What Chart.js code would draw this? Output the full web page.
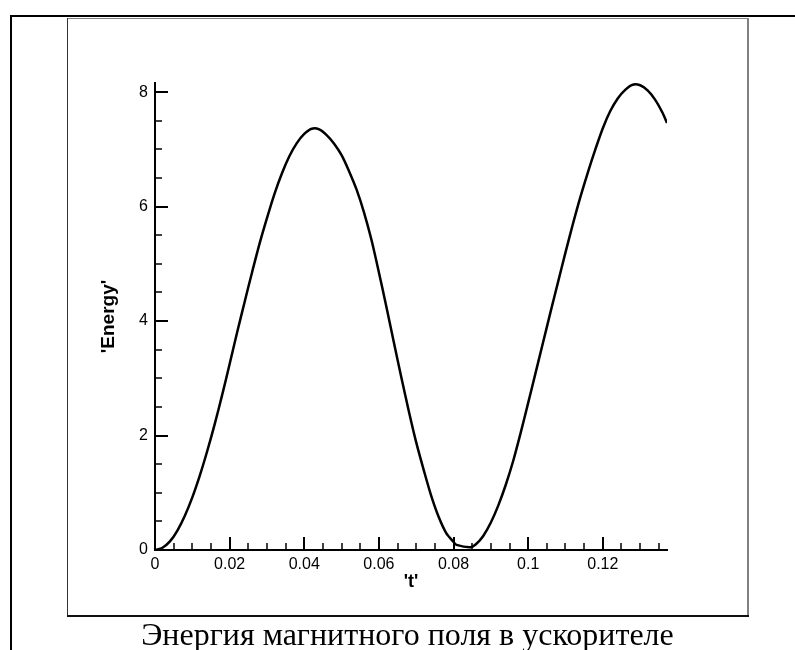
<!DOCTYPE html>
<html>
<head>
<meta charset="utf-8">
<script src="https://cdn.jsdelivr.net/npm/chart.js@4/dist/chart.umd.min.js"></script>
<style>
  html, body { margin: 0; padding: 0; background: #fff; overflow: hidden; }
  #wrap { position: relative; width: 795px; height: 650px; }
  #c { position: absolute; left: 0; top: 0; }
  .line { position: absolute; }
  #caption {
    position: absolute; left: 0; width: 815px; top: 618px;
    text-align: center; font-family: "Liberation Serif", "DejaVu Serif", serif;
    font-size: 32px; line-height: 32px; color: #000; white-space: nowrap;
  }
</style>
</head>
<body>
<div id="wrap">
  <canvas id="c" width="795" height="650"></canvas>
  <!-- outer frame -->
  <div class="line" style="left:10px; top:15px; width:785px; height:2px; background:#000"></div>
  <div class="line" style="left:10px; top:15px; width:2px; height:635px; background:#000"></div>
  <!-- inner box -->
  <div class="line" style="left:67px; top:18px; width:682px; height:1px; background:#808080"></div>
  <div class="line" style="left:67px; top:18px; width:1px; height:598px; background:#333"></div>
  <div class="line" style="left:747px; top:18px; width:2px; height:599px; background:#808080"></div>
  <div class="line" style="left:67px; top:615px; width:682px; height:2px; background:#111"></div>
  <div id="caption">Энергия магнитного поля в ускорителе</div>
</div>
<script>
// время, с
var t = [0, 0.002, 0.004, 0.006, 0.008, 0.010, 0.012, 0.014, 0.016, 0.018,
         0.020, 0.022, 0.024, 0.026, 0.028, 0.030, 0.032, 0.034, 0.036, 0.038,
         0.040, 0.042, 0.044, 0.046, 0.048, 0.050, 0.052, 0.054, 0.056,
         0.058, 0.060, 0.062, 0.064, 0.066, 0.068, 0.070, 0.072, 0.074, 0.076,
         0.078, 0.080, 0.0808, 0.0845, 0.086, 0.088, 0.090, 0.092, 0.094, 0.096,
         0.098, 0.100, 0.102, 0.104, 0.106, 0.108, 0.110, 0.112, 0.114, 0.116,
         0.118, 0.120, 0.122, 0.124, 0.126, 0.128, 0.130, 0.132, 0.134, 0.136,
         0.1372];
// энергия
var energy = [0, 0.04, 0.15, 0.34, 0.60, 0.92, 1.30, 1.73, 2.20, 2.71,
              3.25, 3.80, 4.33, 4.85, 5.35, 5.80, 6.22, 6.58, 6.88, 7.11,
              7.27, 7.36, 7.35, 7.25, 7.10, 6.90, 6.62, 6.30, 5.90,
              5.42, 4.85, 4.25, 3.63, 3.02, 2.43, 1.88, 1.40, 0.95, 0.58,
              0.30, 0.14, 0.09, 0.05, 0.10, 0.25, 0.48, 0.78, 1.14, 1.56,
              2.05, 2.57, 3.10, 3.63, 4.16, 4.68, 5.20, 5.70, 6.17, 6.60,
              7.00, 7.37, 7.67, 7.89, 8.04, 8.13, 8.12, 8.03, 7.87, 7.64,
              7.46];

var xMax = 0.1372, yMax = 8.16;
var xMajor = 0.02, xMinor = 0.005;
var yMajor = 2, yMinor = 0.5;

var pts = t.map(function (v, i) { return { x: v, y: energy[i] }; });

function fmt(v) { return String(+v.toFixed(3)); }

// засечки внутрь области графика
var ticksPlugin = {
  id: 'inTicks',
  afterDraw: function (chart) {
    var ctx = chart.ctx, xs = chart.scales.x, ys = chart.scales.y;
    var x0 = xs.getPixelForValue(0), y0 = ys.getPixelForValue(0);
    ctx.save();
    ctx.strokeStyle = '#000';
    var v, p, major;
    for (v = 0; v <= xMax + 1e-9; v += xMinor) {
      major = Math.abs(v / xMajor - Math.round(v / xMajor)) < 1e-6;
      p = Math.round(xs.getPixelForValue(v));
      ctx.lineWidth = major ? 2 : 1.5;
      ctx.beginPath();
      ctx.moveTo(p, y0);
      ctx.lineTo(p, y0 - (major ? 13 : 7));
      ctx.stroke();
    }
    for (v = 0; v <= yMax + 1e-9; v += yMinor) {
      major = Math.abs(v / yMajor - Math.round(v / yMajor)) < 1e-6;
      p = Math.round(ys.getPixelForValue(v));
      ctx.lineWidth = major ? 2 : 1.5;
      ctx.beginPath();
      ctx.moveTo(x0, p);
      ctx.lineTo(x0 + (major ? 13 : 7), p);
      ctx.stroke();
    }
    ctx.restore();
  }
};

new Chart(document.getElementById('c'), {
  type: 'scatter',
  data: {
    datasets: [{
      data: pts,
      showLine: true,
      borderColor: '#000',
      borderWidth: 2.5,
      pointRadius: 0,
      tension: 0.3
    }]
  },
  options: {
    responsive: false,
    animation: false,
    layout: { padding: { left: 0, right: 128, top: 83, bottom: 0 } },
    plugins: { legend: { display: false }, tooltip: { enabled: false } },
    scales: {
      x: {
        type: 'linear', min: 0, max: xMax,
        afterFit: function (s) { s.height = 100; },
        grid: { display: false, drawTicks: false },
        border: { display: true, color: '#000', width: 2 },
        ticks: {
          stepSize: xMajor, includeBounds: false, maxRotation: 0, padding: 5,
          color: '#000', font: { family: 'Liberation Sans', size: 16 },
          callback: function (v) { return fmt(v); }
        },
        title: {
          display: true, text: "'t'", color: '#000',
          font: { family: 'Liberation Sans', size: 18, weight: 'bold' },
          padding: { bottom: 57 }
        }
      },
      y: {
        type: 'linear', min: 0, max: yMax,
        afterFit: function (s) { s.width = 155; },
        grid: { display: false, drawTicks: false },
        border: { display: true, color: '#000', width: 2 },
        ticks: {
          stepSize: yMajor, includeBounds: false, padding: 7,
          color: '#000', font: { family: 'Liberation Sans', size: 16 },
          callback: function (v) { return fmt(v); }
        },
        title: {
          display: true, text: "'Energy'", color: '#000',
          font: { family: 'Liberation Sans', size: 19, weight: 'bold' },
          padding: { top: 97 }
        }
      }
    }
  },
  plugins: [ticksPlugin]
});
</script>
</body>
</html>
